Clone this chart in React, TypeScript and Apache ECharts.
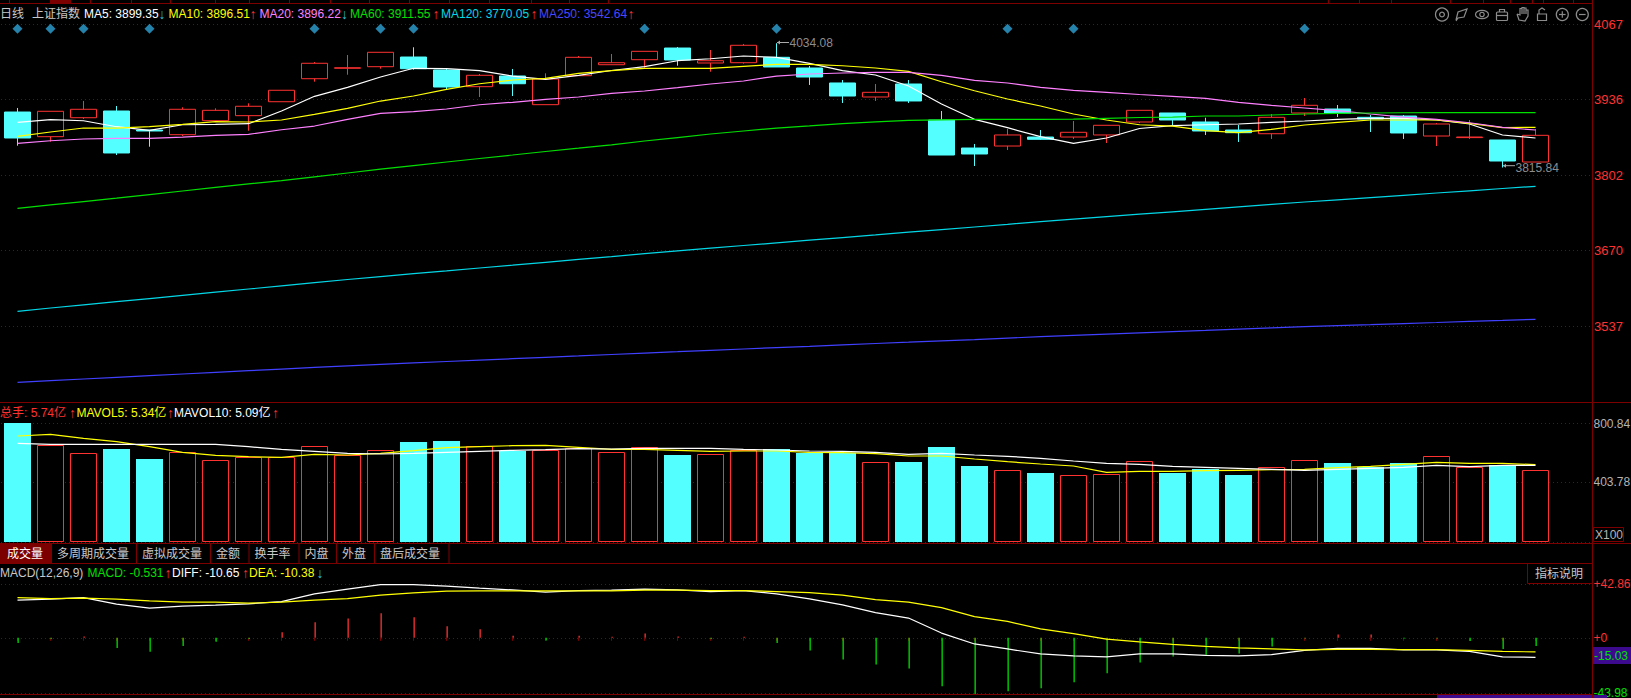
import React, { useEffect, useRef } from "react";
import * as echarts from "echarts";

const W = 1631;
const H = 698;
const FONT = '"Liberation Sans", "Noto Sans CJK SC", sans-serif';
const RED = "#ff3232";
const CYAN = "#54ffff";
const GREEN = "#00e000";
const FRAME = "#7d0000";
const GRAY = "#b4b4b4";

// [open, close, low, high]
const candles = [
  [3913.3, 3867.7, 3854.2, 3920.4], [3870, 3914.6, 3861.2, 3914.6], [3903.3, 3918.1, 3901.1, 3932.7],
  [3915.1, 3841.4, 3837.8, 3923.9], [3881.7, 3880, 3852.4, 3881.7], [3873.5, 3918.1, 3871.2, 3921.6],
  [3898.1, 3916.3, 3898.1, 3919.8], [3906.9, 3923.4, 3880.5, 3928.6], [3931.4, 3951.5, 3931.4, 3951.5],
  [3971.8, 3998.9, 3966.6, 4001.1], [3990.2, 3991, 3978.8, 4013.4], [3992.9, 4018.2, 3989.4, 4018.2],
  [4009.9, 3989.4, 3987.6, 4027], [3987.1, 3957.2, 3953.2, 3989.4], [3957.8, 3977.8, 3939.7, 3980.1],
  [3976.6, 3963, 3941.4, 3988.9], [3926.2, 3971.3, 3926.2, 3981.3], [3977.1, 4009.4, 3977.1, 4011.7],
  [3996.4, 3999.9, 3996.4, 4015.2], [4005.2, 4019.9, 3991.1, 4019.9], [4025.7, 4004.7, 3994.7, 4027.5],
  [3999.4, 4003.4, 3984.1, 4022.2], [3999.9, 4030.5, 3998.2, 4032.8], [4009.4, 3992.4, 3992.4, 4034.08],
  [3990.6, 3974.8, 3960.8, 3994.1], [3964.3, 3941.4, 3929.2, 3969.5], [3939.7, 3947.9, 3932.7, 3962.5],
  [3962.5, 3932.7, 3929.2, 3969.5], [3899.3, 3837.8, 3837.8, 3915.1], [3850.1, 3839.6, 3818.5, 3857.2],
  [3853.6, 3873, 3846.6, 3883.5], [3869.4, 3865.4, 3864.2, 3881.7], [3869.4, 3877.7, 3866, 3897.5],
  [3873, 3890, 3858.9, 3890], [3895.8, 3916.3, 3894, 3916.3], [3911.6, 3899.3, 3890.5, 3911.6],
  [3895.8, 3880, 3873, 3903.3], [3881.7, 3877, 3860.7, 3890.5], [3875.2, 3904, 3866, 3909.8],
  [3911.6, 3925.1, 3906.3, 3937.9], [3918.6, 3911.1, 3904.6, 3925.6], [3904, 3901.1, 3878.2, 3908.1],
  [3906.3, 3876.5, 3866, 3908.1], [3871.2, 3892.3, 3853.6, 3894], [3868.4, 3869.4, 3866, 3899.3],
  [3864.2, 3827.3, 3815.84, 3864.2], [3825.5, 3872.4, 3825.5, 3883.5],
];

const ma5 = [3895.2, 3899.8, 3898, 3887.5, 3881.2, 3891, 3891.7, 3892.8, 3915.1, 3940.9, 3956.7, 3974.8, 3990.1, 3989.4, 3985.9, 3976.5, 3970.7, 3977.8, 3986.2, 3992.9, 4003.4, 4006.9, 4011.7, 4009.4, 3998.8, 3985.9, 3978.3, 3959, 3927.4, 3900.5, 3885.8, 3870, 3858.4, 3867.7, 3884.4, 3889.3, 3891, 3892.3, 3895.2, 3897.5, 3900.5, 3902.3, 3902.3, 3899.3, 3892.3, 3873, 3867.7];
const ma10 = [3870.7, 3878.2, 3885.2, 3885.2, 3887.5, 3891.7, 3896.3, 3895.8, 3899.3, 3909.3, 3919.8, 3932.6, 3941.4, 3953.2, 3963, 3969.5, 3972.5, 3981.3, 3985.9, 3990.1, 3990.1, 3990.1, 3993.6, 3997.1, 3997.1, 3994.6, 3990.6, 3984.8, 3966.5, 3950.7, 3936.2, 3923.9, 3909.8, 3899.3, 3891, 3888.7, 3880.5, 3877, 3883, 3890.5, 3895.2, 3899.3, 3899.3, 3899.3, 3893.5, 3885.8, 3886.5];
const ma20 = [3858.4, 3862.9, 3865.9, 3867.1, 3867.1, 3869.4, 3872.4, 3874.2, 3882.2, 3888.7, 3900.5, 3911, 3913.9, 3918.6, 3926.1, 3930.4, 3935.6, 3939.7, 3946.2, 3950.2, 3956, 3962.5, 3967.8, 3976.5, 3980.1, 3981.8, 3983, 3983, 3977.8, 3969, 3964.3, 3956.7, 3951.4, 3947.9, 3944.1, 3940.9, 3937.4, 3930.4, 3925.1, 3920.4, 3915.6, 3909.8, 3904.5, 3900.5, 3894.5, 3886.5, 3881.7];
const ma60 = [3744.2, 3750.2, 3756, 3762, 3768.3, 3774.6, 3780.9, 3787.2, 3792.7, 3799.5, 3806.2, 3812.9, 3819.2, 3825.5, 3831.7, 3837.8, 3844, 3849.8, 3855.7, 3862.4, 3868.5, 3874.7, 3880, 3885.2, 3889.1, 3893.1, 3896.1, 3898.8, 3899.6, 3900.5, 3900.5, 3900.5, 3900.7, 3902.3, 3903.7, 3904.5, 3906.3, 3906.3, 3908.1, 3909.8, 3911, 3911.6, 3912, 3912.1, 3912.1, 3912.1, 3912.1];
const ma120 = [3563.4, 3569.2, 3574.6, 3580.2, 3585.7, 3591.3, 3596.9, 3602.5, 3608, 3613.6, 3619.2, 3624.3, 3629.4, 3634.3, 3639.4, 3644.3, 3649.4, 3654.5, 3659.4, 3664.5, 3669.4, 3674.2, 3678.9, 3683.5, 3688.2, 3692.8, 3697.5, 3702.3, 3706.8, 3711.4, 3716.1, 3720.9, 3725.1, 3729.5, 3733.9, 3738.1, 3742.5, 3746.9, 3751.1, 3755.3, 3759.2, 3763, 3767.1, 3771.1, 3775, 3779, 3782.9];
const ma250 = [3438.7, 3441.7, 3444.5, 3447.5, 3450.3, 3453.3, 3456.1, 3459.1, 3462, 3464.8, 3467.7, 3470.3, 3472.7, 3475.2, 3477.7, 3480.1, 3482.6, 3485, 3487.5, 3490, 3492.4, 3494.9, 3497.2, 3499.6, 3501.9, 3504.4, 3506.8, 3509.1, 3511.6, 3513.8, 3516.3, 3518.8, 3521, 3523.2, 3525.4, 3527.7, 3529.8, 3532.1, 3534.4, 3536.3, 3538.2, 3540, 3541.9, 3543.7, 3545.6, 3547.4, 3549.3];

const volume = [804.4, 653.7, 599.6, 628.7, 561.1, 606.4, 552.3, 572.6, 572.6, 646.9, 588.1, 619.9, 676, 682.8, 646.9, 615.2, 619.9, 633.4, 606.4, 640.2, 588.1, 592.9, 621.9, 626.7, 603.7, 603.7, 538.8, 540.8, 642.2, 513.8, 484.7, 466.4, 450.9, 457.7, 545.5, 466.4, 491.5, 452.9, 505, 552.3, 534, 507, 534, 579.3, 505, 518.5, 484.7];
const mavol5 = [716.6, 728.1, 701, 678, 644.2, 606.4, 586.1, 576.6, 572.6, 592.9, 588.1, 599.6, 617.2, 637.5, 644.2, 651, 653.7, 640.2, 626.7, 626.7, 619.9, 613.1, 615.2, 615.2, 606.4, 603.7, 596.9, 581.4, 581.4, 561.1, 542.8, 527.3, 513.8, 471.2, 477.9, 477.9, 482, 484.7, 488.7, 491.5, 502.3, 511.7, 525.3, 538.8, 532, 532, 522.5];
const mavol10 = [667.2, 660.5, 660.5, 660.5, 660.5, 660.5, 660.5, 644.2, 626.7, 613.1, 599.6, 594.9, 599.6, 606.4, 613.1, 619.9, 624, 630.7, 628.7, 633.4, 633.4, 633.4, 626.7, 621.9, 615.2, 613.1, 606.4, 592.9, 599.6, 588.1, 579.3, 565.8, 547.6, 532, 525.3, 511.7, 505, 498.2, 491.5, 484.7, 491.5, 498.2, 505, 518.5, 509, 518.5, 518.5];

const diff = [30.1, 30.9, 32.2, 26.9, 23.7, 25.3, 26.1, 27.2, 29, 35.1, 38.9, 42.5, 42.5, 41.3, 39.7, 38.3, 36.5, 37.8, 38.1, 38.9, 38.3, 37, 37.8, 35.1, 31.2, 26.4, 20.2, 15.8, 3.8, -4.9, -8.9, -12.9, -14.5, -15.3, -12.9, -12.9, -14, -14.5, -13.5, -10, -8.4, -8.4, -9.7, -9.7, -10.8, -15.3, -15.6];
const dea = [32.2, 31.4, 31.7, 30.9, 29.6, 28.5, 28.5, 27.7, 28.5, 30.1, 31.4, 34.1, 35.9, 37.3, 37.5, 37.5, 37.5, 37.5, 37.5, 38.1, 38.1, 37.8, 37.8, 37, 36.2, 34.1, 30.6, 28.5, 24.2, 17, 13.1, 7.2, 3.3, -1, -3.3, -5.3, -6.9, -8.1, -8.9, -9.7, -9.2, -9.2, -9.5, -9.5, -10, -10.8, -11.3];
const macd = [-4.2, -1, 1, -8.2, -11.2, -6.6, -3.2, -1, 4.5, 12.5, 15.4, 19.7, 16.5, 9.3, 6.9, 1.6, -2.2, 1.6, 0.8, 3.4, 1, -1, 0.8, -4.2, -10.1, -17.3, -21.3, -24.5, -38.8, -44.9, -42.8, -40.4, -35.6, -28.4, -19.7, -14.9, -14.3, -12.5, -6.9, -0.6, 2.6, 2.6, -0.6, -0.6, -2.6, -9, -6.6];

const signalIndexes = [0, 1, 2, 4, 9, 11, 12, 19, 23, 30, 32, 39];
const signalLevel = 4059.6;
const priceTicks = [3537, 3670, 3802, 3936, 4067];
const volumeTicks = [403.78, 800.84];
const macdTicks = [-43.98, 0, 42.86];
const highIndex = 23;
const lowIndex = 45;
const highLabel = "4034.08";
const lowLabel = "3815.84";

const DOWN_ARROW = "#2ec0d8";
const maHeader = [
  ["日线", "#c8c8c8", 0, "", ""],
  ["上证指数", "#c8c8c8", 32, "", ""],
  ["MA5: 3899.35", "#ffffff", 84, "↓", DOWN_ARROW],
  ["MA10: 3896.51", "#ffff00", 168.5, "↑", RED],
  ["MA20: 3896.22", "#ff80ff", 259.5, "↓", DOWN_ARROW],
  ["MA60: 3911.55", GREEN, 350, "↑", RED],
  ["MA120: 3770.05", "#00d8e8", 441, "↑", RED],
  ["MA250: 3542.64", "#4848ff", 539, "↑", RED],
];
const volHeader = [
  ["总手: 5.74亿", RED, 0, "↑", RED],
  ["MAVOL5: 5.34亿", "#ffff00", 76.5, "↑", RED],
  ["MAVOL10: 5.09亿", "#ffffff", 174, "↑", RED],
];
const macdHeader = [
  ["MACD(12,26,9)", "#c8c8c8", 0, "", ""],
  ["MACD: -0.531", GREEN, 87.5, "↑", RED],
  ["DIFF: -10.65", "#ffffff", 172, "↑", RED],
  ["DEA: -10.38", "#ffff00", 249, "↓", DOWN_ARROW],
];
const tabs = ["成交量", "多周期成交量", "虚拟成交量", "金额", "换手率", "内盘", "外盘", "盘后成交量"];
const tabEdges = [0, 51, 136, 210, 248.5, 298.5, 336, 374, 448.5];
const topTicks = [9, 90, 131, 170, 215, 249, 289, 330, 369, 409, 449, 489, 531, 569, 608, 1328, 1359, 1391, 1450, 1483, 1510, 1532, 1543, 1573];

const pair = (arr: number[]) => arr.map((v, i) => [i, v]);

function label(text: string, x: number, y: number, fill: string, opts: any = {}) {
  return {
    type: "text",
    x,
    y,
    silent: true,
    z: 20,
    style: {
      text,
      fill,
      font: `${opts.size || 12}px ${FONT}`,
      textAlign: opts.align || "left",
      textVerticalAlign: "middle",
    },
  };
}
function hline(y: number, x1: number, x2: number, stroke = FRAME) {
  return { type: "line", silent: true, z: 10, shape: { x1, y1: y, x2, y2: y }, style: { stroke, lineWidth: 1 } };
}
function vline(x: number, y1: number, y2: number, stroke = FRAME) {
  return { type: "line", silent: true, z: 10, shape: { x1: x, y1, x2: x, y2 }, style: { stroke, lineWidth: 1 } };
}
function box(x: number, y: number, width: number, height: number, fill: string, stroke?: string) {
  return {
    type: "rect",
    silent: true,
    z: 9,
    shape: { x, y, width, height },
    style: { fill, stroke: stroke || "none", lineWidth: 1 },
  };
}
function headerRow(rows: any[], y: number, arrowsX: number[]) {
  const out: any[] = [];
  rows.forEach((r, i) => {
    out.push(label(r[0], r[2], y, r[1]));
    if (r[3]) out.push(label(r[3], arrowsX[i], y, r[4], { size: 14 }));
  });
  return out;
}
function stroke(el: any, color = "#8c8c8c") {
  return { silent: true, z: 20, ...el, style: { fill: "none", stroke: color, lineWidth: 1.2, ...(el.style || {}) } };
}
function icons() {
  const y = 14.5;
  return [
    stroke({ type: "circle", shape: { cx: 1442, cy: y, r: 6.5 } }),
    stroke({ type: "circle", shape: { cx: 1442, cy: y, r: 2.4 } }),
    stroke({ type: "polyline", shape: { points: [[1456, 20], [1458, 12], [1467, 9], [1464, 17], [1458, 18], [1456, 21]] } }),
    stroke({ type: "ellipse", shape: { cx: 1482, cy: y, rx: 6.5, ry: 4.2 } }),
    stroke({ type: "circle", shape: { cx: 1482, cy: y, r: 2.2 } }),
    stroke({ type: "rect", shape: { x: 1496.5, y: 12, width: 11, height: 8.5, r: 1 } }),
    stroke({ type: "polyline", shape: { points: [[1499.5, 12], [1499.5, 9.5], [1504.5, 9.5], [1504.5, 12]] } }),
    stroke({ type: "line", shape: { x1: 1496.5, y1: 15.5, x2: 1507.5, y2: 15.5 } }),
    stroke({ type: "polyline", shape: { points: [[1517, 14], [1519, 20], [1525, 21], [1528, 16], [1528, 10], [1526, 10], [1526, 14], [1526, 8], [1524, 8], [1524, 14], [1524, 7.5], [1522, 7.5], [1522, 14], [1522, 8.5], [1520, 8.5], [1520, 15], [1517, 14]] } }),
    stroke({ type: "rect", shape: { x: 1537.5, y: 14, width: 9, height: 6.5 } }),
    stroke({ type: "polyline", shape: { points: [[1539, 14], [1539, 10], [1542, 8], [1545, 10]] } }),
    stroke({ type: "circle", shape: { cx: 1562.3, cy: y, r: 6 } }),
    stroke({ type: "line", shape: { x1: 1559, y1: y, x2: 1565.6, y2: y } }),
    stroke({ type: "line", shape: { x1: 1562.3, y1: y - 3.3, x2: 1562.3, y2: y + 3.3 } }),
    stroke({ type: "circle", shape: { cx: 1582.3, cy: y, r: 6 } }),
    stroke({ type: "line", shape: { x1: 1579, y1: y, x2: 1585.6, y2: y } }),
  ];
}
function arrow(x1: number, x2: number, y: number) {
  return [
    { type: "line", silent: true, z: 15, shape: { x1, y1: y, x2, y2: y }, style: { stroke: "#aaaaaa", lineWidth: 1 } },
    { type: "polygon", silent: true, z: 15, shape: { points: [[x1, y], [x1 + 3, y - 2], [x1 + 3, y + 2]] }, style: { fill: "#aaaaaa" } },
  ];
}

function volumeBar(_: any, api: any) {
  const i = api.value(0);
  const top = api.coord([i, api.value(1)]);
  const base = api.coord([i, 0]);
  const up = candles[i][1] >= candles[i][0];
  const x = Math.round(top[0] - 13.5);
  const y = Math.round(top[1]);
  return {
    type: "rect",
    shape: up
      ? { x: x + 0.5, y: y + 0.5, width: 26, height: base[1] - y - 1 }
      : { x, y, width: 27, height: base[1] - y },
    style: up ? { fill: "#000000", stroke: RED, lineWidth: 1 } : { fill: CYAN },
  };
}
function macdBar(_: any, api: any) {
  const i = api.value(0);
  const v = api.value(1);
  const end = api.coord([i, v]);
  const zero = api.coord([i, 0]);
  return {
    type: "rect",
    shape: {
      x: Math.round(end[0]) - 0.5,
      y: Math.min(end[1], zero[1]),
      width: 1.3,
      height: Math.abs(end[1] - zero[1]),
    },
    style: { fill: v >= 0 ? RED : GREEN },
  };
}

function buildOption(): any {
  const xAxisBase = {
    type: "value",
    min: -0.5,
    max: 47.712,
    show: false,
    splitLine: { show: false },
  };
  const dotted = { show: true, lineStyle: { color: "#8a0000", type: [1, 3] as any, width: 1 } };
  const line = (xAxisIndex: number, name: string, data: number[], color: string) => ({
    type: "line",
    name,
    xAxisIndex,
    yAxisIndex: xAxisIndex,
    data: pair(data),
    showSymbol: false,
    symbol: "none",
    silent: true,
    z: 5,
    lineStyle: { color, width: 1.2 },
    itemStyle: { color },
  });

  const graphic: any[] = [
    ...headerRow(maHeader, 14, [0, 0, 158.5, 249.5, 341, 432.5, 530.5, 627.5]),
    ...headerRow(volHeader, 412.5, [69, 167, 272]),
    ...headerRow(macdHeader, 573, [0, 164.5, 242, 316.5]),
    ...icons(),
    box(50, 0, 21, 3, "#7d0000"),
    hline(3.5, 0, 1592),
    ...topTicks.map((x) => vline(x + 0.5, 0, 3)),
    hline(402.5, 0, W),
    hline(543.5, 0, W),
    hline(563.5, 0, 1592),
    hline(694.5, 0, 1592),
    vline(1592.5, 0, H),
    box(0, 544, 51, 19, "#7d0000"),
    ...tabs.map((t, i) => label(t, i === 0 ? 7 : tabEdges[i] + 6, 554, i === 0 ? "#ffffff" : "#c8c8c8")),
    ...tabEdges.slice(1).map((x) => vline(x + 0.5, 544, 563)),
    box(1527.5, 563.5, 65, 20, "#000000", FRAME),
    label("指标说明", 1535, 574, "#c8c8c8"),
    box(1593.5, 527.5, 30, 14, "#000000", FRAME),
    label("X100", 1595, 535, GRAY, { size: 12 }),
    box(1593, 647, 38, 17, "#3c0a8c"),
    label("-15.03", 1594, 656, GREEN, { size: 12 }),
    box(1437, 695, 170, 3, "#3c0a8c"),
    ...arrow(777, 789, 42.5),
    ...arrow(1503, 1515, 165.7),
  ];

  const gridBase = { left: 1, right: W - 1592, containLabel: false, outerBoundsMode: "none" };

  return {
    animation: false,
    backgroundColor: "#000000",
    textStyle: { fontFamily: FONT },
    grid: [
      { ...gridBase, top: 24.5, height: 377.5 },
      { ...gridBase, top: 402.5, height: 139.5 },
      { ...gridBase, top: 564, height: 130.5 },
    ],
    xAxis: [
      { ...xAxisBase, gridIndex: 0 },
      { ...xAxisBase, gridIndex: 1 },
      {
        ...xAxisBase,
        gridIndex: 2,
        show: true,
        axisLine: { show: false },
        axisLabel: { show: false },
        axisTick: {
          show: true,
          length: 3,
          customValues: candles.map((_, i) => i),
          lineStyle: { color: FRAME, width: 1 },
        },
      },
    ],
    yAxis: [
      {
        type: "value",
        gridIndex: 0,
        position: "right",
        min: 3404.1,
        max: 4067,
        axisLine: { show: false },
        axisTick: { show: false, customValues: priceTicks },
        splitLine: dotted,
        axisLabel: {
          customValues: priceTicks,
          color: RED,
          fontSize: 13,
          margin: 2,
          fontFamily: FONT,
          formatter: (v: number) => String(v),
        },
      },
      {
        type: "value",
        gridIndex: 1,
        position: "right",
        min: 0,
        max: 943,
        axisLine: { show: false },
        axisTick: { show: false, customValues: [0, ...volumeTicks] },
        splitLine: dotted,
        axisLabel: {
          customValues: volumeTicks,
          color: GRAY,
          fontSize: 12,
          margin: 1.5,
          fontFamily: FONT,
          formatter: (v: number) => v.toFixed(2),
        },
      },
      {
        type: "value",
        gridIndex: 2,
        position: "right",
        min: -45.33,
        max: 59.04,
        axisLine: { show: false },
        axisTick: { show: false, customValues: macdTicks },
        splitLine: dotted,
        axisLabel: {
          customValues: macdTicks,
          fontSize: 12,
          lineHeight: 9,
          margin: 1.5,
          fontFamily: FONT,
          color: (v: number) => (Number(v) < 0 ? GREEN : RED),
          formatter: (v: number) => (v > 0 ? `+${v}` : v === 0 ? "+0" : String(v)),
        },
      },
    ],
    series: [
      {
        type: "candlestick",
        xAxisIndex: 0,
        yAxisIndex: 0,
        barWidth: 27,
        silent: true,
        z: 3,
        encode: { x: 0, y: [1, 2, 3, 4] },
        data: candles.map((c, i) => [i, ...c]),
        itemStyle: {
          color: "#000000",
          color0: CYAN,
          borderColor: RED,
          borderColor0: CYAN,
          borderWidth: 1,
        },
      },
      line(0, "MA5", ma5, "#ffffff"),
      line(0, "MA10", ma10, "#ffff00"),
      line(0, "MA20", ma20, "#ff80ff"),
      line(0, "MA60", ma60, GREEN),
      line(0, "MA120", ma120, "#00d8e8"),
      line(0, "MA250", ma250, "#4040ff"),
      {
        type: "scatter",
        xAxisIndex: 0,
        yAxisIndex: 0,
        symbol: "diamond",
        symbolSize: 10,
        silent: true,
        z: 4,
        itemStyle: { color: "#2ea3d6" },
        data: signalIndexes.map((i) => [i, signalLevel]),
      },
      {
        type: "scatter",
        xAxisIndex: 0,
        yAxisIndex: 0,
        symbolSize: 0,
        silent: true,
        z: 6,
        data: [
          { value: [highIndex, candles[highIndex][3]], label: { formatter: highLabel, offset: [13, 0] } },
          { value: [lowIndex, candles[lowIndex][2]], label: { formatter: lowLabel, offset: [13, 0] } },
        ],
        label: { show: true, position: "right", distance: 0, color: GRAY, fontSize: 12, fontFamily: FONT },
      },
      {
        type: "custom",
        xAxisIndex: 1,
        yAxisIndex: 1,
        silent: true,
        z: 3,
        encode: { x: 0, y: 1 },
        renderItem: volumeBar,
        data: pair(volume),
      },
      line(1, "MAVOL5", mavol5, "#ffff00"),
      line(1, "MAVOL10", mavol10, "#ffffff"),
      {
        type: "custom",
        xAxisIndex: 2,
        yAxisIndex: 2,
        silent: true,
        z: 3,
        encode: { x: 0, y: 1 },
        renderItem: macdBar,
        data: pair(macd),
      },
      line(2, "DIFF", diff, "#ffffff"),
      line(2, "DEA", dea, "#ffff00"),
    ],
    graphic,
  };
}

export default function App() {
  const ref = useRef<HTMLDivElement>(null);
  useEffect(() => {
    document.body.style.margin = "0";
    document.body.style.background = "#000";
    document.body.style.overflow = "hidden";
    const chart = echarts.init(ref.current!, undefined, { renderer: "svg" });
    chart.setOption(buildOption());
    return () => chart.dispose();
  }, []);
  return <div ref={ref} style={{ width: W, height: H, background: "#000" }} />;
}
